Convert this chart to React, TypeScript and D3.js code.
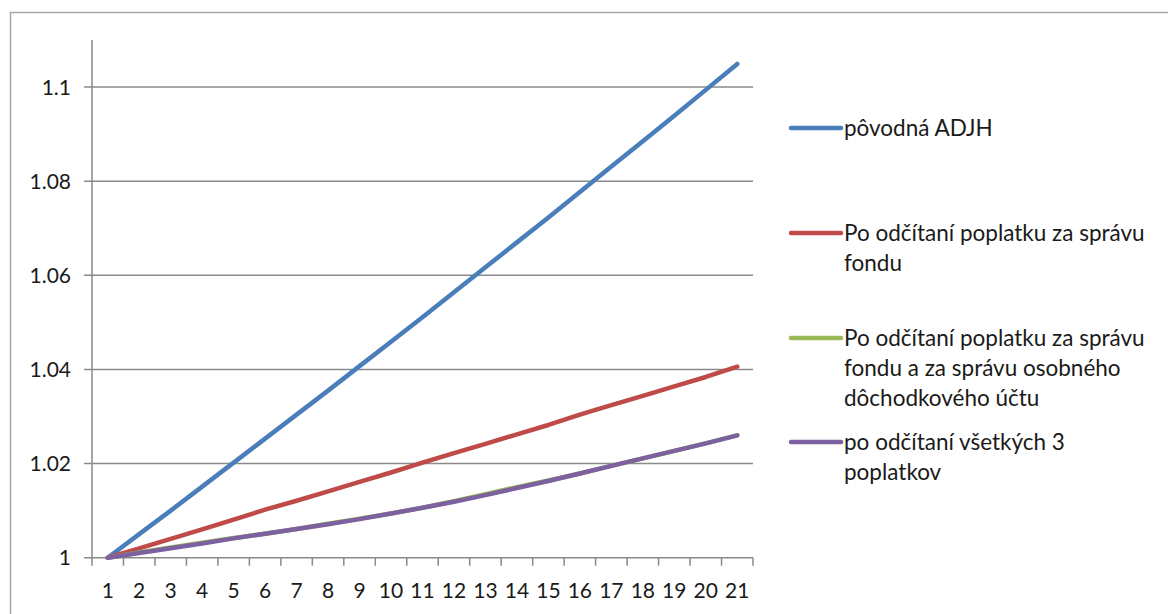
import React from "react";
import * as d3 from "d3";

// Years of saving (x-axis categories)
const years = ["1","2","3","4","5","6","7","8","9","10","11","12","13","14","15","16","17","18","19","20","21"];

// Accumulated value per unit invested
const povodna = [1, 1.005, 1.01, 1.0151, 1.0202, 1.0253, 1.0304, 1.0355, 1.0407, 1.0459, 1.0511, 1.0564, 1.0617, 1.067, 1.0723, 1.0777, 1.0831, 1.0885, 1.0939, 1.0994, 1.1049];
const poFonde = [1, 1.002, 1.004, 1.006, 1.0081, 1.0102, 1.0121, 1.0141, 1.0161, 1.0181, 1.0202, 1.0222, 1.0242, 1.0262, 1.0282, 1.0304, 1.0324, 1.0344, 1.0364, 1.0384, 1.0406];
const poFondeAUcte = [1, 1.0011, 1.0022, 1.0032, 1.0042, 1.0051, 1.0061, 1.0072, 1.0083, 1.0094, 1.0106, 1.012, 1.0135, 1.015, 1.0164, 1.0179, 1.0195, 1.0211, 1.0227, 1.0243, 1.026];
const poVsetkych = [1, 1.001, 1.002, 1.003, 1.0041, 1.0051, 1.0061, 1.0071, 1.0082, 1.0094, 1.0106, 1.0119, 1.0133, 1.0148, 1.0163, 1.0179, 1.0195, 1.0211, 1.0227, 1.0243, 1.026];

const yTicks = [1, 1.02, 1.04, 1.06, 1.08, 1.1];
const yTickLabels = ["1", "1.02", "1.04", "1.06", "1.08", "1.1"];

const series = [
  { name: ["pôvodná ADJH"], values: povodna, color: "#4A7EBB", legendY: 128 },
  { name: ["Po odčítaní poplatku za správu", "fondu"], values: poFonde, color: "#BE4B48", legendY: 233 },
  { name: ["Po odčítaní poplatku za správu", "fondu a za správu osobného", "dôchodkového účtu"], values: poFondeAUcte, color: "#98B954", legendY: 338 },
  { name: ["po odčítaní všetkých 3", "poplatkov"], values: poVsetkych, color: "#7D60A0", legendY: 442 },
];

const W = 1168;
const H = 614;
const plot = { left: 92, right: 753, top: 40, bottom: 557.7 };
const FONT = "Lato, 'Open Sans', sans-serif";
const AXIS = "#8a8a8a";

export default function App() {
  const x = d3.scaleBand<string>().domain(years).range([plot.left, plot.right]).padding(0);
  const y = d3.scaleLinear().domain([1, 1.11]).range([plot.bottom, plot.top]);
  const cx = (d: string) => (x(d) as number) + x.bandwidth() / 2;

  const line = (vals: number[]) =>
    d3.line<number>().x((_, i) => cx(years[i])).y((v) => y(v))(vals) as string;

  const boundaries = years.map((d) => x(d) as number).concat([plot.right]);

  return (
    <svg width={W} height={H} style={{ position: "absolute", left: 0, top: 0, background: "#fff" }}>
      <rect x={10.5} y={12.5} width={W + 20} height={H + 20} fill="#fff" stroke="#a6a6a6" strokeWidth={1.5} />

      {/* gridlines and y ticks */}
      {yTicks.map((t, i) => (
        <g key={t}>
          <line x1={plot.left - 8} x2={plot.right} y1={y(t)} y2={y(t)} stroke={AXIS} strokeWidth={1.5} />
          <text x={71} y={y(t)} dy="0.36em" textAnchor="end" fontFamily={FONT} fontSize={21} fill="#1a1a1a">
            {yTickLabels[i]}
          </text>
        </g>
      ))}

      {/* y axis */}
      <line x1={plot.left} x2={plot.left} y1={plot.top} y2={plot.bottom} stroke={AXIS} strokeWidth={1.5} />

      {/* x ticks */}
      {boundaries.map((b, i) => (
        <line key={i} x1={b} x2={b} y1={plot.bottom} y2={plot.bottom + 8} stroke={AXIS} strokeWidth={1.5} />
      ))}
      {years.map((d) => (
        <text key={d} x={cx(d)} y={598} textAnchor="middle" fontFamily={FONT} fontSize={21} fill="#1a1a1a">
          {d}
        </text>
      ))}

      {/* series */}
      {series.map((s) => (
        <path key={s.color} d={line(s.values)} fill="none" stroke={s.color} strokeWidth={4.5} strokeLinecap="round" strokeLinejoin="round" />
      ))}

      {/* legend */}
      {series.map((s) => (
        <g key={"l" + s.color}>
          <line x1={791} x2={841} y1={s.legendY} y2={s.legendY} stroke={s.color} strokeWidth={4.5} strokeLinecap="round" />
          {s.name.map((ln, j) => (
            <text key={j} x={844} y={s.legendY + j * 30} dy="0.35em" fontFamily={FONT} fontSize={22.5} fill="#1a1a1a">
              {ln}
            </text>
          ))}
        </g>
      ))}
    </svg>
  );
}
